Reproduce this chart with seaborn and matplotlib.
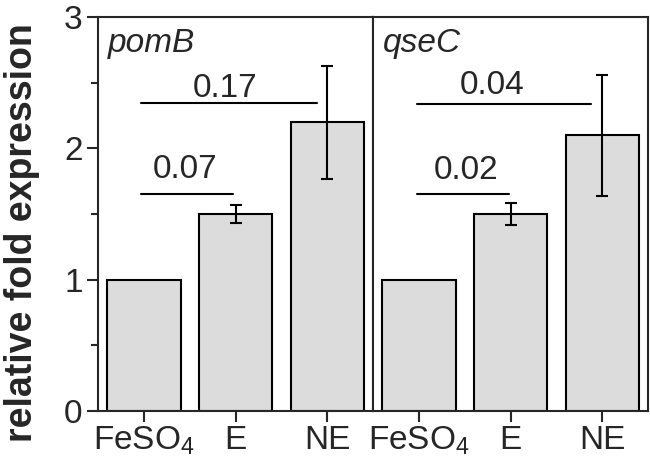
import numpy as np
import pandas as pd
import seaborn as sns
import matplotlib.pyplot as plt

conditions = ['FeSO$_4$', 'E', 'NE']
genes = ['pomB', 'qseC']
pomB_mean = [1.0, 1.5, 2.2]
pomB_err = [0.0, 0.07, 0.43]
qseC_mean = [1.0, 1.5, 2.1]
qseC_err = [0.0, 0.08, 0.46]
pvals_pomB = ['0.07', '0.17']
pvals_qseC = ['0.02', '0.04']

# bracket layout per panel: (x start, x end, line y, text x, text baseline y)
brackets = {
    'pomB': [(-0.03, 0.97, 1.653, 0.45, 1.775), (-0.03, 1.89, 2.346, 0.89, 2.39)],
    'qseC': [(-0.02, 0.98, 1.653, 0.51, 1.767), (-0.02, 1.88, 2.338, 0.80, 2.414)],
}

sns.set_style('ticks')
plt.rcParams['font.family'] = ['Liberation Sans', 'DejaVu Sans']
plt.rcParams['mathtext.fontset'] = 'custom'
plt.rcParams['mathtext.rm'] = 'Liberation Sans'
plt.rcParams['mathtext.it'] = 'Liberation Sans:italic'

fig = plt.figure(figsize=(6.5, 4.7), dpi=100)
ax1 = fig.add_axes([98 / 650, 1 - 411 / 470, 275 / 650, 394 / 470])
ax2 = fig.add_axes([373 / 650, 1 - 411 / 470, 275 / 650, 394 / 470], sharey=ax1)

data = {'pomB': (pomB_mean, pomB_err, pvals_pomB),
        'qseC': (qseC_mean, qseC_err, pvals_qseC)}

lw = 1.5
for ax, gene in zip([ax1, ax2], genes):
    means, errs, pv = data[gene]
    df = pd.DataFrame({'condition': conditions, 'fold': means})
    sns.barplot(data=df, x='condition', y='fold', ax=ax, color='#dcdcdc',
                saturation=1, edgecolor='black', linewidth=lw, width=0.8)
    pos = np.arange(1, len(conditions))
    ax.errorbar(pos, means[1:], yerr=errs[1:], fmt='none', ecolor='black',
                elinewidth=lw, capsize=4.3, capthick=lw)
    for (x0, x1, yl, tx, ty), p in zip(brackets[gene], pv):
        ax.plot([x0, x1], [yl, yl], color='black', lw=lw)
        ax.text(tx, ty, p, ha='center', va='baseline', fontsize=24)
    ax.text(0.036, 0.911, gene, transform=ax.transAxes, ha='left', va='baseline',
            fontsize=24, style='italic')
    ax.set_xlim(-0.5, 2.5)
    ax.set_xlabel('')
    ax.set_ylabel('')
    for s in ax.spines.values():
        s.set_linewidth(lw)
        s.set_visible(True)
    ax.tick_params(axis='x', length=8, width=lw, labelsize=24, pad=2)

ax1.set_ylim(0, 3)
ax1.set_yticks([0, 1, 2, 3])
ax1.set_yticks([0.5, 1.5, 2.5], minor=True)
ax1.tick_params(axis='y', which='major', length=8, width=lw, labelsize=24, pad=3)
ax1.tick_params(axis='y', which='minor', length=5, width=lw)
ax1.set_ylabel('relative fold expression', fontsize=27, fontweight='bold')
ax1.yaxis.set_label_coords(-0.21, 0.454)
ax2.tick_params(axis='y', which='both', left=False, labelleft=False)

fig.savefig('out.png', dpi=100)
